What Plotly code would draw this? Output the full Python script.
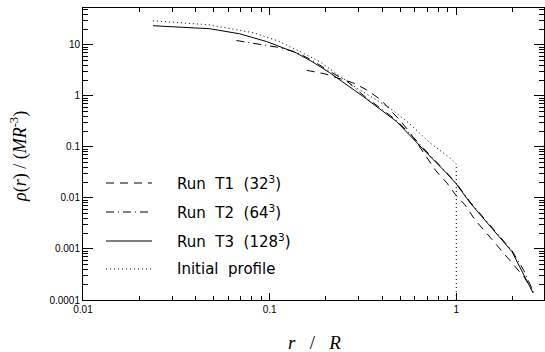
import plotly.graph_objects as go

# ---- data ----
t1_r = [0.158, 0.197, 0.279, 0.331, 0.394, 0.44, 0.499, 0.564, 0.687, 0.777, 0.89, 1.0,
        1.114, 1.26, 1.42, 1.61, 1.82, 2.06, 2.33, 2.54]
t1_rho = [3.16, 2.7, 1.8, 1.31, 0.835, 0.543, 0.331, 0.192, 0.0637, 0.034, 0.0197, 0.011,
          0.0073, 0.0037, 0.00225, 0.00131, 0.00076, 0.000464, 0.00027, 0.000158]

t2_r = [0.0664, 0.0885, 0.109, 0.139, 0.17, 0.21, 0.259, 0.317, 0.389, 0.479, 0.587, 0.75,
        1.0, 1.186, 1.5, 1.99, 2.3, 2.6]
t2_rho = [12.1, 10.0, 9.0, 7.2, 4.9, 3.0, 1.95, 1.03, 0.59, 0.33, 0.155, 0.06,
          0.0195, 0.0083, 0.0030, 0.00092, 0.00038, 0.00014]

t3_r = [0.0237, 0.0478, 0.069, 0.096, 0.139, 0.17, 0.21, 0.317, 0.479, 0.587, 0.662, 0.887,
        1.0, 1.186, 1.72, 1.99, 2.2, 2.58]
t3_rho = [23.6, 20.6, 16.4, 11.6, 6.9, 4.6, 2.83, 0.97, 0.313, 0.148, 0.091, 0.0305,
          0.0188, 0.008, 0.00166, 0.00088, 0.00043, 0.000137]

init_r = [0.0237, 0.0478, 0.0815, 0.113, 0.145, 0.185, 0.292, 0.358, 0.44, 0.564, 0.722,
          0.923, 1.0, 1.0]
init_rho = [29.5, 24.5, 17.2, 11.6, 7.4, 4.7, 1.42, 0.90, 0.58, 0.282, 0.12,
            0.061, 0.0464, 0.0001]

x_major = [0.01, 0.1, 1]
x_major_text = ["0.01", "0.1", "1"]
y_major = [0.0001, 0.001, 0.01, 0.1, 1, 10]
y_major_text = ["0.0001", "0.001", "0.01", "0.1", "1", "10"]

legend_labels = ["Run\u00a0\u00a0T1\u00a0\u00a0(32<sup>3</sup>)",
                 "Run\u00a0\u00a0T2\u00a0\u00a0(64<sup>3</sup>)",
                 "Run\u00a0\u00a0T3\u00a0\u00a0(128<sup>3</sup>)",
                 "Initial\u00a0\u00a0profile"]

# ---- styles ----
W, H = 545, 352
L, R, T, B = 83, 1, 8, 52
PW, PH = W - L - R, H - T - B
DASH = "8px,6px"
DASHDOT = "8px,4px,1px,4px"
DOT = "1px,3px"
styles = [DASH, DASHDOT, "solid", DOT]

x_minor = [m * d for d in (0.01, 0.1, 1) for m in range(2, 10) if m * d < 3]
y_minor = [m * d for d in (0.0001, 0.001, 0.01, 0.1, 1, 10) for m in range(2, 10) if m * d < 52]

fig = go.Figure()
series = [(t1_r, t1_rho), (t2_r, t2_rho), (t3_r, t3_rho), (init_r, init_rho)]
for (xs, ys), dsh in zip(series, styles):
    fig.add_trace(go.Scatter(x=xs, y=ys, mode="lines",
                             line=dict(color="black", width=1, dash=dsh),
                             showlegend=False, hoverinfo="skip"))

tickfont = dict(family="Liberation Sans, Arial", size=10, color="black")
fig.update_xaxes(type="log", range=[-2, 0.47], showline=True, linecolor="black",
                 linewidth=1, mirror="ticks", ticks="inside", ticklen=7,
                 tickcolor="black", tickwidth=1,
                 tickvals=x_major, ticktext=x_major_text, tickfont=tickfont,
                 showgrid=False, zeroline=False,
                 minor=dict(tickvals=x_minor, ticks="inside", ticklen=4,
                            tickcolor="black", tickwidth=1, showgrid=False))
fig.update_yaxes(type="log", range=[-4, 1.72], showline=True, linecolor="black",
                 linewidth=1, mirror="ticks", ticks="inside", ticklen=10,
                 tickcolor="black", tickwidth=1,
                 tickvals=y_major, ticktext=y_major_text, tickfont=tickfont,
                 showgrid=False, zeroline=False,
                 minor=dict(tickvals=y_minor, ticks="inside", ticklen=5,
                            tickcolor="black", tickwidth=1, showgrid=False))

def px2paper(x, y):
    return (x - L) / PW, 1 - (y - T) / PH

shapes = []
annotations = []
legend_y = [183, 212, 241, 269]
for lab, dsh, ly in zip(legend_labels, styles, legend_y):
    x0, y0 = px2paper(106, ly)
    x1, _ = px2paper(152, ly)
    shapes.append(dict(type="line", xref="paper", yref="paper", x0=x0, x1=x1, y0=y0, y1=y0,
                       line=dict(color="black", width=1, dash=dsh)))
    tx, _ = px2paper(175, ly)
    annotations.append(dict(text=lab, xref="paper", yref="paper", x=tx, y=y0,
                            xanchor="left", yanchor="middle", showarrow=False,
                            font=dict(family="DejaVu Sans", size=15, color="black")))

titlefont = dict(family="Liberation Serif, Times New Roman", size=19, color="black")
xt, yt = px2paper(314, 342)
annotations.append(dict(text="<i>r</i>\u00a0\u00a0\u00a0/\u00a0\u00a0\u00a0<i>R</i>", xref="paper", yref="paper",
                        x=xt, y=yt, xanchor="center", yanchor="middle", showarrow=False,
                        font=titlefont))
xt, yt = px2paper(19, 157)
annotations.append(dict(text="<i>ρ</i>(<i>r</i>)\u00a0/\u00a0(<i>MR</i><sup>-3</sup>)",
                        xref="paper", yref="paper", x=xt, y=yt, xanchor="center",
                        yanchor="middle", textangle=-90, showarrow=False,
                        font=dict(family="Liberation Serif, Times New Roman", size=18,
                                  color="black")))

fig.update_layout(width=W, height=H, margin=dict(l=L, r=R, t=T, b=B),
                  plot_bgcolor="white", paper_bgcolor="white",
                  shapes=shapes, annotations=annotations, showlegend=False)

fig.write_html("out.html")
